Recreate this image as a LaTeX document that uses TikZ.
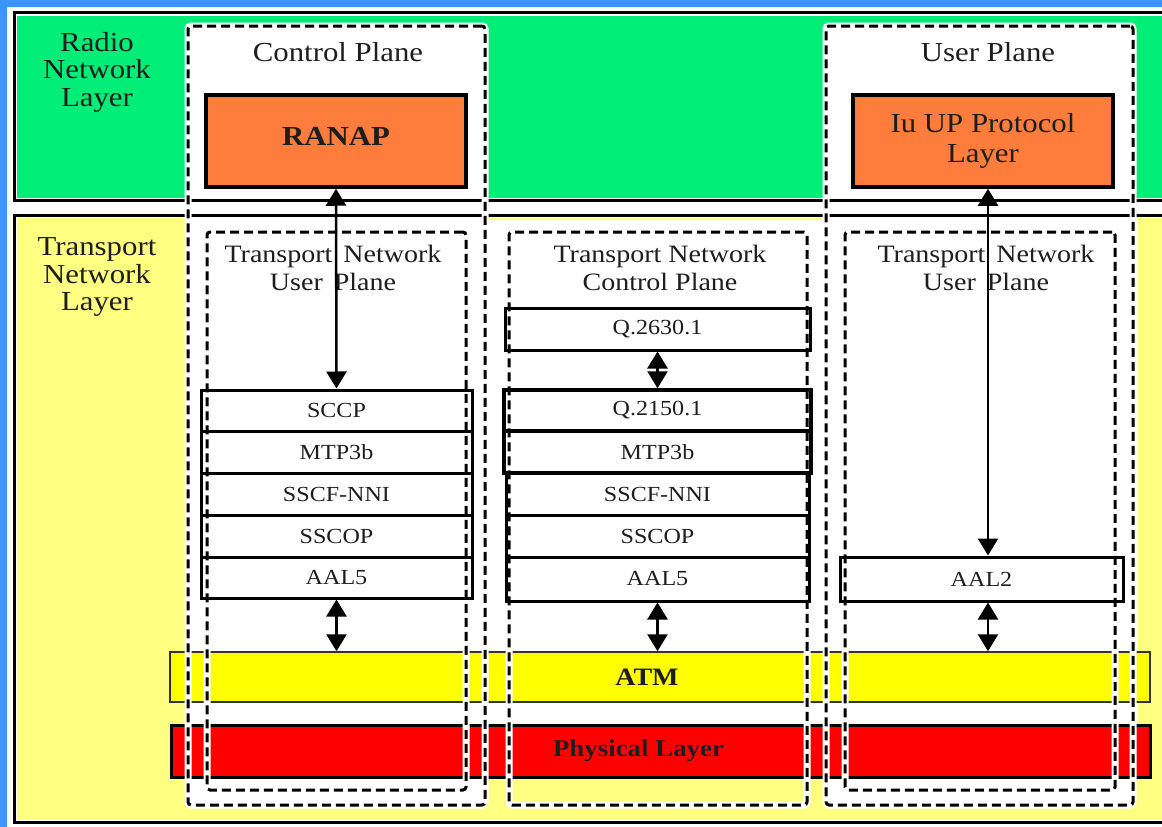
\documentclass[tikz,border=0pt]{standalone}
\usepackage{fontspec}
\setmainfont{Liberation Serif}[FakeStretch=1.12]
\usetikzlibrary{arrows.meta,calc}
\definecolor{bgblue}{RGB}{58,150,255}
\definecolor{rgreen}{RGB}{0,238,120}
\definecolor{tyellow}{RGB}{255,255,130}
\definecolor{atmyellow}{RGB}{255,255,0}
\definecolor{physred}{RGB}{255,0,0}
\definecolor{orangebox}{RGB}{255,125,60}
\definecolor{txt}{RGB}{30,30,30}
\begin{document}
\begin{tikzpicture}[x=1pt,y=-1pt,
  hdr/.style={align=center,text=txt,inner sep=0pt,font=\fontsize{27.5}{27.5}\selectfont},
  subhdr/.style={align=center,text=txt,inner sep=0pt,font=\fontsize{25}{28}\selectfont},
  dashbox/.style={draw=black,line width=3pt,dash pattern=on 9pt off 5pt,rounded corners=3pt,
    preaction={draw=white,line width=7pt,solid},inner sep=0pt},
  layerbox/.style={draw=black,line width=3pt,inner sep=0pt,text=txt,font=\fontsize{21.5}{23}\selectfont},
  protbox/.style={draw=black,line width=3.5pt,fill=orangebox,inner sep=0pt,text=txt,align=center,
    font=\fontsize{27.5}{30}\selectfont},
  dblarrow/.style={line width=2.5pt,{Triangle[width=20pt,length=17pt]}-{Triangle[width=20pt,length=17pt]}}]
\useasboundingbox (0,0) rectangle (1162,827);
\clip (0,0) rectangle (1162,827);
% page and backgrounds
\fill[bgblue] (0,0) rectangle (1162,827);
\fill[white] (7,7) rectangle (1162,827);
\fill[rgreen] (17,16) rectangle (1162,198);
\fill[tyellow] (17,218) rectangle (1162,820);
\fill[white] (185,220) rectangle (1138,778);
\fill[white] (188,26) rectangle (485,805);
\fill[white] (826,26) rectangle (1133,805);
% layer frames
\draw[line width=3pt] (14,12) rectangle (1175,200);
\draw[line width=3pt] (14,215) rectangle (1175,822);
% ATM and physical bars
\node[draw=black!80,line width=1.5pt,fill=atmyellow,minimum width=980pt,minimum height=50pt,inner sep=0pt,
  text=txt,font=\fontsize{25}{26}\selectfont\bfseries] (atm) at (660,677) {\hspace*{-26pt}ATM};
\node[draw=black,line width=3pt,fill=physred,minimum width=979pt,minimum height=52pt,inner sep=0pt,
  text=txt,font=\fontsize{24}{26}\selectfont\bfseries] (phy) at (660.5,751) {\hspace*{-44pt}Physical Layer};
% dashed plane boxes
\node[dashbox,minimum width=297pt,minimum height=779pt] (cpbox) at (336.5,415.5) {};
\node[dashbox,minimum width=307pt,minimum height=779pt] (upbox) at (979.5,415.5) {};
\node[dashbox,minimum width=259pt,minimum height=558pt] (tnup1) at (336.5,511) {};
\node[dashbox,minimum width=298pt,minimum height=573pt] (tncp) at (658,518.5) {};
\node[dashbox,minimum width=270pt,minimum height=558pt] (tnup2) at (980,511) {};
% labels
\node[hdr] (rnl) at (97,72) {Radio\\Network\\Layer};
\node[hdr] (tnl) at (97,277) {Transport\\Network\\Layer};
\node[hdr] (cpl) at (338,52) {Control Plane};
\node[hdr] (upl) at (988,52) {User Plane};
\node[subhdr] (tnup1l) at (333,268) {Transport\hspace{11pt}Network\\User\hspace{11pt}Plane};
\node[subhdr] (tncpl) at (660,268) {Transport Network\\Control Plane};
\node[subhdr] (tnup2l) at (986,268) {Transport\hspace{11pt}Network\\User\hspace{11pt}Plane};
% protocol boxes
\node[protbox,minimum width=260pt,minimum height=92pt] (ranap) at (336,141) {\raisebox{10pt}{\bfseries RANAP}};
\node[protbox,minimum width=260pt,minimum height=92pt] (iuup) at (983,141) {Iu UP Protocol\\Layer};
% left stack
\node[layerbox,minimum width=271pt,minimum height=41pt] (sccp) at (336.5,410.5) {SCCP};
\node[layerbox,minimum width=271pt,minimum height=42pt] (mtpl) at (336.5,452) {MTP3b};
\node[layerbox,minimum width=271pt,minimum height=42pt] (sscfl) at (336.5,494) {SSCF-NNI};
\node[layerbox,minimum width=271pt,minimum height=42pt] (sscopl) at (336.5,536) {SSCOP};
\node[layerbox,minimum width=271pt,minimum height=41pt] (aal5l) at (336.5,577.5) {AAL5};
% middle stack
\node[layerbox,minimum width=305pt,minimum height=42pt] (q2630) at (657.5,329) {Q.2630.1};
\node[layerbox,line width=3.5pt,minimum width=307pt,minimum height=41pt] (q2150) at (657.5,410.5) {Q.2150.1};
\node[layerbox,line width=3.5pt,minimum width=307pt,minimum height=42pt] (mtpm) at (657.5,452) {MTP3b};
\node[layerbox,minimum width=303pt,minimum height=42pt] (sscfm) at (657.5,494) {SSCF-NNI};
\node[layerbox,minimum width=303pt,minimum height=42pt] (sscopm) at (657.5,536) {SSCOP};
\node[layerbox,minimum width=303pt,minimum height=44pt] (aal5m) at (657.5,579) {AAL5};
% right stack
\node[layerbox,minimum width=283pt,minimum height=44pt] (aal2) at (981.5,579) {AAL2};
% connectors
\coordinate (ar) at (988,0);
\draw[dblarrow] (ranap.south) -- (sccp.north);
\draw[dblarrow] (q2630.south) -- (q2150.north);
\draw[dblarrow] (iuup.south -| ar) -- (aal2.north -| ar);
\draw[dblarrow] (aal5l.south) -- (atm.north -| aal5l.south);
\draw[dblarrow] (aal5m.south) -- (atm.north -| aal5m.south);
\draw[dblarrow] (aal2.south -| ar) -- (atm.north -| ar);
\end{tikzpicture}
\end{document}
